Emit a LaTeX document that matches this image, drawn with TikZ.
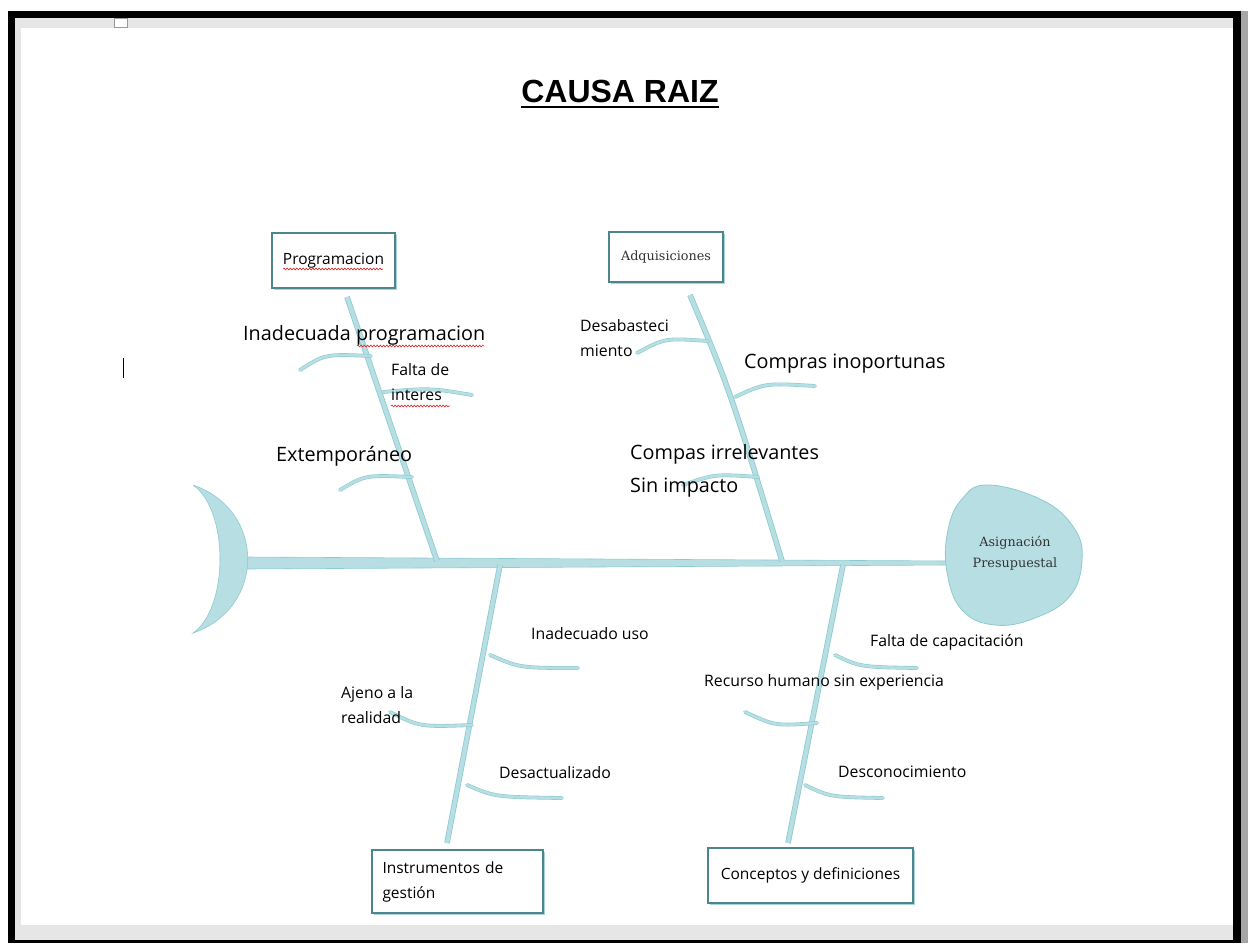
\documentclass[tikz,border=0pt]{standalone}
\usepackage{fontspec}
\setmainfont{Open Sans}
\newfontfamily\titlefont{Liberation Sans}
\newfontfamily\serifblk{DejaVu Serif}
\usetikzlibrary{positioning,shadows,decorations.pathmorphing}
\definecolor{fishfill}{HTML}{B7DFE3}
\definecolor{fishline}{HTML}{8CCBD0}
\definecolor{boxline}{HTML}{4A868C}
\definecolor{boxshade}{HTML}{A9D4D8}
\definecolor{pagegray}{HTML}{E6E6E6}
\definecolor{squig}{HTML}{E02020}

\begin{document}
\begin{tikzpicture}[x=1pt,y=-1pt]
  \tikzstyle{every node}=[inner sep=0pt]
  \tikzstyle{bone}=[draw=fishline,double=fishfill,line width=0.8pt,double distance=4pt]
  \tikzstyle{rib}=[draw=fishline,double=fishfill,line width=0.6pt,double distance=2.6pt,line cap=round]
  \tikzstyle{cause}=[draw=boxline,line width=1.4pt,fill=white,font=\fontsize{15.5}{25}\selectfont,
    drop shadow={shadow xshift=1.5pt,shadow yshift=-1.5pt,fill=boxshade,opacity=1}]
  \tikzstyle{big}=[font=\fontsize{19.8}{33}\selectfont,align=left,anchor=base west]
  \tikzstyle{small}=[font=\fontsize{15.8}{25}\selectfont,align=left,anchor=base west]
  \tikzstyle{serifbox}=[font=\serifblk\fontsize{12.8}{21}\selectfont,text=black!80]
  \tikzstyle{squiggle}=[draw=squig,line width=0.6pt,decorate,decoration={snake,amplitude=0.9pt,segment length=3.2pt}]

  \fill[black] (8,11) rectangle (1241,943);
  \fill[pagegray] (15,18) rectangle (1233,940);
  \fill[white] (21,28) rectangle (1233,925);
  \fill[black!35] (1241,11) rectangle (1248,943);
  \draw[black!40,line width=0.8pt,fill=white] (114,18) rectangle (127,27);
  \useasboundingbox (0,0) rectangle (1248,943);

  \node[font=\titlefont\bfseries\fontsize{32}{38}\selectfont,anchor=base] (title) at (620,102) {CAUSA RAIZ};
  \draw[line width=2.5pt] ([yshift=-5pt]title.base west) -- ([yshift=-5pt]title.base east);

  \node[cause,minimum width=123pt,minimum height=55pt] (prog) at (333.5,260.5) {Programacion};
  \node[cause,serifbox,minimum width=114pt,minimum height=50pt] (adq) at (666,257) {Adquisiciones};
  \node[cause,minimum width=171pt,minimum height=63pt,text width=150pt,align=left] (instr) at (457.5,881.5) {Instrumentos de\\gestión};
  \node[cause,minimum width=205pt,minimum height=55pt] (conc) at (810.5,875.5) {Conceptos y definiciones};

  \coordinate (tail) at (246,563);
  \coordinate (mouth) at (947,563);
  \fill[fishfill,draw=fishline,line width=0.6pt] ([yshift=6pt]tail) -- ([yshift=2pt]mouth) -- ([yshift=-2pt]mouth) -- ([yshift=-6pt]tail) -- cycle;
  \fill[fishfill,draw=fishline,line width=0.6pt] (193,485) .. controls (266,510) and (266,608) .. (193,633)
    .. controls (229,608) and (229,510) .. (193,485);
  \fill[fishfill,draw=fishline,line width=0.8pt] plot[smooth cycle,tension=0.7] coordinates
    {(988,485) (1042,500) (1074,528) (1082,560) (1070,596) (1035,618) (995,625) (962,610) (947,572) (948,530) (962,499)};
  \node[serifbox,align=center] (head) at (1015,553) {Asignación\\Presupuestal};

  \coordinate (prog1) at (347,297);
  \coordinate (prog2) at (437,561);
  \coordinate (adq1) at (690,295);
  \coordinate (adq2) at (782,561);
  \coordinate (instr1) at (500,565);
  \coordinate (instr2) at (447,843);
  \coordinate (conc1) at (843,565);
  \coordinate (conc2) at (788,843);
  \draw[bone] (prog1) -- (prog2);
  \draw[bone] (adq1) .. controls (730,390) .. (adq2);
  \draw[bone] (instr1) -- (instr2);
  \draw[bone] (conc1) -- (conc2);

  \draw[rib] (371,356) .. controls (325,354) .. (300,370);
  \draw[rib] (383,392) .. controls (430,388) .. (472,395);
  \draw[rib] (412,477) .. controls (365,475) .. (340,490);
  \draw[rib] (708,341) .. controls (665,338) .. (637,353);
  \draw[rib] (735,397) .. controls (765,383) .. (815,386);
  \draw[rib] (758,477) .. controls (715,474) .. (683,485);
  \draw[rib] (490,655) .. controls (520,668) .. (578,668);
  \draw[rib] (472,725) .. controls (420,727) .. (390,712);
  \draw[rib] (467,785) .. controls (495,797) .. (562,798);
  \draw[rib] (835,655) .. controls (860,667) .. (917,668);
  \draw[rib] (817,723) .. controls (775,726) .. (745,712);
  \draw[rib] (805,785) .. controls (830,797) .. (883,798);

  \node[big] (inprog) at (243,340) {Inadecuada programacion};
  \node[small] (falta) at (391,400) {Falta de\\interes};
  \node[big] (extemp) at (276,461) {Extemporáneo};
  \node[small] (desab) at (580,356) {Desabasteci\\miento};
  \node[big] (comprasin) at (744,368) {Compras inoportunas};
  \node[big] (compasirr) at (630,492) {Compas irrelevantes\\Sin impacto};
  \node[small] (inuso) at (531,639) {Inadecuado uso};
  \node[small] (ajeno) at (341,723) {Ajeno a la\\realidad};
  \node[small] (desact) at (499,778) {Desactualizado};
  \node[small] (faltacap) at (870,646) {Falta de capacitación};
  \node[small] (recurso) at (704,686) {Recurso humano sin experiencia};
  \node[small] (descon) at (838,777) {Desconocimiento};

  \draw[squiggle] (357,346) -- (484,346);
  \draw[squiggle] (283,269) -- (383,269);
  \draw[squiggle] (391,406) -- (450,406);

  \draw[line width=1pt] (123,358) -- (123,378);
\end{tikzpicture}
\end{document}
